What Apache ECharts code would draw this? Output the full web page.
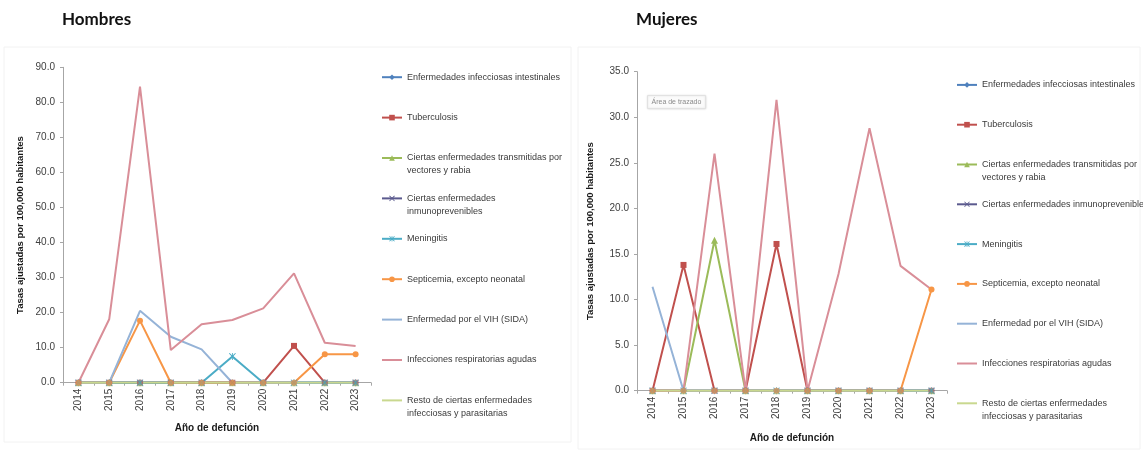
<!DOCTYPE html>
<html>
<head>
<meta charset="utf-8">
<script src="https://cdn.jsdelivr.net/npm/echarts@6/dist/echarts.min.js"></script>
<style>
  html, body { margin: 0; padding: 0; background: #ffffff; }
  #chart { width: 1143px; height: 451px; }
</style>
</head>
<body>
<div id="chart"></div>
<script>
// Años de defunción
const years = ['2014', '2015', '2016', '2017', '2018', '2019', '2020', '2021', '2022', '2023'];

// Grupos de causas (orden de la leyenda)
const causes = [
  'Enfermedades infecciosas intestinales',
  'Tuberculosis',
  'Ciertas enfermedades transmitidas por vectores y rabia',
  'Ciertas enfermedades inmunoprevenibles',
  'Meningitis',
  'Septicemia, excepto neonatal',
  'Enfermedad por el VIH (SIDA)',
  'Infecciones respiratorias agudas',
  'Resto de ciertas enfermedades infecciosas y parasitarias'
];

// Tasas ajustadas por 100,000 habitantes — Hombres
const hIntestinales   = [0, 0, 0, 0, 0, 0, 0, 0, 0, 0];
const hTuberculosis   = [0, 0, 0, 0, 0, 0, 0, 10.5, 0, 0];
const hVectores       = [0, 0, 0, 0, 0, 0, 0, 0, 0, 0];
const hInmuno         = [0, 0, 0, 0, 0, 0, 0, 0, 0, 0];
const hMeningitis     = [0, 0, 0, 0, 0, 7.5, 0, 0, 0, 0];
const hSepticemia     = [0, 0, 17.7, 0, 0, 0, 0, 0, 8.1, 8.1];
const hVih            = [0, 0, 20.5, 13.1, 9.5, 0, 0, 0, 0, 0];
const hRespiratorias  = [0, 18.1, 84.5, 9.3, 16.7, 17.9, 21.2, 31.2, 11.4, 10.5];
const hResto          = [0, 0, 0, 0, 0, 0, 0, 0, 0, 0];

// Tasas ajustadas por 100,000 habitantes — Mujeres
const mIntestinales   = [0, 0, 0, 0, 0, 0, 0, 0, 0, 0];
const mTuberculosis   = [0, 13.8, 0, 0, 16.1, 0, 0, 0, 0, 0];
const mVectores       = [0, 0, 16.5, 0, 0, 0, 0, 0, 0, 0];
const mInmuno         = [0, 0, 0, 0, 0, 0, 0, 0, 0, 0];
const mMeningitis     = [0, 0, 0, 0, 0, 0, 0, 0, 0, 0];
const mSepticemia     = [0, 0, 0, 0, 0, 0, 0, 0, 0, 11.1];
const mVih            = [11.4, 0, 0, 0, 0, 0, 0, 0, 0, 0];
const mRespiratorias  = [0, 0, 26.0, 0, 31.9, 0, 12.8, 28.8, 13.7, 11.1];
const mResto          = [0, 0, 0, 0, 0, 0, 0, 0, 0, 0];

// Eje Y
const hYMax = 90, hYStep = 10;
const mYMax = 35, mYStep = 5;

const hombresData = [hIntestinales, hTuberculosis, hVectores, hInmuno, hMeningitis, hSepticemia, hVih, hRespiratorias, hResto];
const mujeresData = [mIntestinales, mTuberculosis, mVectores, mInmuno, mMeningitis, mSepticemia, mVih, mRespiratorias, mResto];

// Estilo de cada serie
const crossPath = 'path://M0,1 L1,0 L5,4 L9,0 L10,1 L6,5 L10,9 L9,10 L5,6 L1,10 L0,9 L4,5 Z';
const starPath = 'path://M0,1 L1,0 L4.4,3.4 L4.4,0 L5.6,0 L5.6,3.4 L9,0 L10,1 L6,5 L10,9 L9,10 L5.6,6.6 L5.6,10 L4.4,10 L4.4,6.6 L1,10 L0,9 L4,5 Z';
const palette = ['#4f81bd', '#c0504d', '#9bbb59', '#5b5a8e', '#4bacc6', '#f79646', '#95b3d7', '#d98e98', '#c9d88f'];
const symbols = ['diamond', 'rect', 'triangle', crossPath, starPath, 'circle', 'none', 'none', 'none'];
const symbolSizes = [7, 6, 7, 6, 7, 6, 0, 0, 0];

// Texto de la leyenda (saltos de línea por panel)
const hLegendText = {
  'Ciertas enfermedades transmitidas por vectores y rabia': 'Ciertas enfermedades transmitidas por\nvectores y rabia',
  'Ciertas enfermedades inmunoprevenibles': 'Ciertas enfermedades\ninmunoprevenibles',
  'Resto de ciertas enfermedades infecciosas y parasitarias': 'Resto de ciertas enfermedades\ninfecciosas y parasitarias'
};
const mLegendText = {
  'Ciertas enfermedades transmitidas por vectores y rabia': 'Ciertas enfermedades transmitidas por\nvectores y rabia',
  'Resto de ciertas enfermedades infecciosas y parasitarias': 'Resto de ciertas enfermedades\ninfecciosas y parasitarias'
};

const FONT = '"Liberation Sans", Arial, sans-serif';
const LINE_H = 13;

// Every entry takes the same vertical slot; a wrapped entry gets an empty
// leading line so that its first line sits beside the icon.
function legendItems(textMap, slot) {
  return causes.map((name, i) => {
    const lines = (textMap[name] || name).split('\n').length;
    const used = lines > 1 ? LINE_H * (lines + 1) : LINE_H;
    const pad = Math.max((slot - used) / 2, 0);
    const item = { name: name, textStyle: { padding: [pad, 0, pad, 0] } };
    if (symbols[i] === 'none') item.itemStyle = { opacity: 0 };
    return item;
  });
}

function makeLegend(textMap, left, top, slot) {
  return {
    orient: 'vertical',
    left: left,
    top: top,
    padding: 0,
    itemGap: 0,
    itemWidth: 20,
    itemHeight: 7,
    selectedMode: false,
    formatter: name => {
      const t = textMap[name] || name;
      return t.indexOf('\n') >= 0 ? '\n' + t : t;
    },
    textStyle: { fontFamily: FONT, fontSize: 9, color: '#3a3a3a', lineHeight: LINE_H },
    data: legendItems(textMap, slot)
  };
}

function makeSeries(dataSet, idx) {
  return dataSet.map((values, i) => ({
    name: causes[i],
    type: 'line',
    xAxisIndex: idx,
    yAxisIndex: idx,
    data: values.map(v => ({ value: v, itemStyle: { opacity: v === 0 ? 0.6 : 1 } })),
    symbol: symbols[i],
    symbolSize: symbolSizes[i],
    showSymbol: symbols[i] !== 'none',
    color: palette[i],
    lineStyle: { width: 2, color: palette[i] },
    itemStyle: { color: palette[i] },
    emphasis: { disabled: true },
    animation: false
  }));
}

function xAxis(idx, gap) {
  return {
    type: 'category',
    gridIndex: idx,
    data: years,
    boundaryGap: true,
    axisLine: { lineStyle: { color: '#a6a6a6', width: 1 } },
    axisTick: { show: true, length: 3, lineStyle: { color: '#a6a6a6' } },
    axisLabel: { rotate: 90, fontFamily: FONT, fontSize: 10, color: '#404040', margin: 6 },
    name: 'Año de defunción',
    nameLocation: 'middle',
    nameGap: gap,
    nameTextStyle: { fontFamily: FONT, fontSize: 10, fontWeight: 'bold', color: '#1a1a1a' }
  };
}

function yAxis(idx, max, step, gap) {
  return {
    type: 'value',
    gridIndex: idx,
    min: 0,
    max: max,
    interval: step,
    splitLine: { show: false },
    axisLine: { show: true, lineStyle: { color: '#a6a6a6', width: 1 } },
    axisTick: { show: true, length: 3, lineStyle: { color: '#a6a6a6' } },
    axisLabel: { fontFamily: FONT, fontSize: 10, color: '#404040', margin: 8, formatter: v => v.toFixed(1) },
    name: 'Tasas ajustadas por 100,000 habitantes',
    nameLocation: 'middle',
    nameRotate: 90,
    nameGap: gap,
    nameTextStyle: { fontFamily: FONT, fontSize: 9.5, fontWeight: 'bold', color: '#1a1a1a' }
  };
}

const chart = echarts.init(document.getElementById('chart'), null, { renderer: 'canvas' });

chart.setOption({
  backgroundColor: '#ffffff',
  animation: false,
  title: [
    { text: 'Hombres', left: 62, top: 11, padding: 0,
      textStyle: { fontFamily: 'Lato, sans-serif', fontSize: 17, fontWeight: 'bold', color: '#111111' } },
    { text: 'Mujeres', left: 636, top: 11, padding: 0,
      textStyle: { fontFamily: 'Lato, sans-serif', fontSize: 17, fontWeight: 'bold', color: '#111111' } }
  ],
  grid: [
    { left: 63, top: 67.3, width: 308, height: 315.4, containLabel: false },
    { left: 637, top: 71.7, width: 310, height: 319, containLabel: false }
  ],
  xAxis: [xAxis(0, 41), xAxis(1, 43)],
  yAxis: [yAxis(0, hYMax, hYStep, 38), yAxis(1, mYMax, mYStep, 42)],
  legend: [
    makeLegend(hLegendText, 381, 57, 40.4),
    makeLegend(mLegendText, 956, 65, 39.8)
  ],
  graphic: [
    { type: 'rect', silent: true, z: -10,
      shape: { x: 4, y: 47, width: 567, height: 395 },
      style: { fill: null, stroke: '#f2f2f2', lineWidth: 1 } },
    { type: 'rect', silent: true, z: -10,
      shape: { x: 578, y: 47, width: 562, height: 402 },
      style: { fill: null, stroke: '#f2f2f2', lineWidth: 1 } },
    { type: 'group', left: 647, top: 95, silent: true, children: [
      { type: 'rect', shape: { x: 0, y: 0, width: 58, height: 13 },
        style: { fill: '#fbfbfb', stroke: '#e2e2e2', lineWidth: 1, shadowBlur: 2, shadowColor: 'rgba(0,0,0,0.12)' } },
      { type: 'text', x: 4, y: 3,
        style: { text: 'Área de trazado', fontFamily: FONT, fontSize: 7, fill: '#8a8a8a' } }
    ] }
  ],
  series: [...makeSeries(hombresData, 0), ...makeSeries(mujeresData, 1)]
});
</script>
</body>
</html>
